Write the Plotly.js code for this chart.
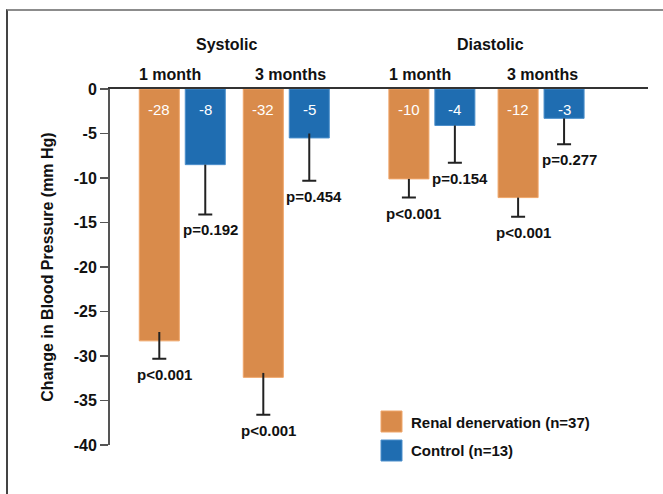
<!DOCTYPE html>
<html>
<head>
<meta charset="utf-8">
<script src="https://cdn.plot.ly/plotly-3.0.1.min.js"></script>
<style>
  html, body { margin: 0; padding: 0; background: #fff; }
  #wrap { position: relative; width: 663px; height: 494px; overflow: hidden; }
  #chart { width: 663px; height: 494px; }
  #frame { position: absolute; left: 6px; top: 9px; width: 657px; height: 485px;
           border-top: 2px solid #8c8c8c; border-left: 2px solid #444;
           box-sizing: border-box; pointer-events: none; }
</style>
</head>
<body>
<div id="wrap">
  <div id="chart"></div>
  <div id="frame"></div>
</div>
<script>
// ---- data ----
var groups = ["Systolic 1 month", "Systolic 3 months", "Diastolic 1 month", "Diastolic 3 months"];
var subLabels = ["1 month", "3 months", "1 month", "3 months"];
var sectionLabels = ["Systolic", "Diastolic"];
var groupPos = [1, 2, 3.4, 4.45];

var renalName = "Renal denervation (n=37)";
var controlName = "Control (n=13)";

var renalValues = [-28.3, -32.4, -10.1, -12.2];
var controlValues = [-8.5, -5.5, -4.1, -3.3];
var renalLabels = ["-28", "-32", "-10", "-12"];
var controlLabels = ["-8", "-5", "-4", "-3"];

var renalErrDown = [2.0, 4.2, 2.1, 2.15];
var controlErrDown = [5.6, 4.8, 4.2, 2.9];
var renalErrUp = [1.0, 0.5, 0, 0];
var controlErrUp = [0, 0.5, 0, 0];

var renalP = ["p<0.001", "p<0.001", "p<0.001", "p<0.001"];
var controlP = ["p=0.192", "p=0.454", "p=0.154", "p=0.277"];

var yTicks = [0, -5, -10, -15, -20, -25, -30, -35, -40];

// ---- styles ----
var ORANGE = "#D98B4B", ORANGE_EDGE = "#EFA66A";
var BLUE = "#1F6DB1", BLUE_EDGE = "#4C8FCB";
var INK = "#222222";
var FONT = "Liberation Sans, Arial, sans-serif";
var barW = 0.385;
var renalOff = -0.4135, controlOff = 0.0285;   // left edge offsets (bar x units)

function centers(off) { return groupPos.map(function (p) { return p + off + barW / 2; }); }
function sub(a, b) { return a.map(function (v, i) { return v - b[i]; }); }
function zeros(n) { var z = []; for (var i = 0; i < n; i++) z.push(0); return z; }

var traces = [
  {
    type: "bar", name: renalName, x: groupPos, y: renalValues,
    width: barW, offset: renalOff,
    marker: { color: ORANGE, line: { color: ORANGE_EDGE, width: 1 } },
    error_y: { type: "data", symmetric: false, array: renalErrUp, arrayminus: renalErrDown,
               width: 0, thickness: 2, color: INK },
    hoverinfo: "skip", showlegend: false
  },
  {
    type: "bar", name: controlName, x: groupPos, y: controlValues,
    width: barW, offset: controlOff,
    marker: { color: BLUE, line: { color: BLUE_EDGE, width: 1 } },
    error_y: { type: "data", symmetric: false, array: controlErrUp, arrayminus: controlErrDown,
               width: 0, thickness: 2, color: INK },
    hoverinfo: "skip", showlegend: false
  },
  // caps of the error bars
  {
    type: "bar", x: groupPos, y: sub(renalValues, renalErrDown),
    width: barW, offset: renalOff,
    marker: { color: "rgba(0,0,0,0)", line: { width: 0 } },
    error_y: { type: "data", symmetric: true, array: zeros(4), width: 7, thickness: 2, color: INK },
    hoverinfo: "skip", showlegend: false
  },
  {
    type: "bar", x: groupPos, y: sub(controlValues, controlErrDown),
    width: barW, offset: controlOff,
    marker: { color: "rgba(0,0,0,0)", line: { width: 0 } },
    error_y: { type: "data", symmetric: true, array: zeros(4), width: 7, thickness: 2, color: INK },
    hoverinfo: "skip", showlegend: false
  }
];

var annotations = [];
var rc = centers(renalOff), cc = centers(controlOff);
// value labels in bars
function addValueLabels(xs, labels) {
  xs.forEach(function (x, i) {
    annotations.push({ x: x, y: 0, xref: "x", yref: "y", text: labels[i], showarrow: false,
      yanchor: "top", yshift: -10, font: { family: FONT, size: 15, color: "#ffffff" } });
  });
}
addValueLabels(rc, renalLabels);
addValueLabels(cc, controlLabels);
// p-value labels under caps
function addP(xs, lows, labels) {
  xs.forEach(function (x, i) {
    annotations.push({ x: x, y: lows[i], xref: "x", yref: "y", text: labels[i], showarrow: false,
      yanchor: "top", yshift: -5, xshift: 5,
      font: { family: FONT, size: 15, color: "#111", weight: "bold" } });
  });
}
addP(rc, sub(renalValues, renalErrDown), renalP);
addP(cc, sub(controlValues, controlErrDown), controlP);
// sub headers
var subShift = [-12, 4, -12, 1];
subLabels.forEach(function (t, i) {
  annotations.push({ x: groupPos[i], y: 1, xref: "x", yref: "paper", text: t, showarrow: false,
    yanchor: "bottom", yshift: 4, xshift: subShift[i],
    font: { family: FONT, size: 16, color: "#111", weight: "bold" } });
});
// section headers
var secPos = [(groupPos[0] + groupPos[1]) / 2, (groupPos[2] + groupPos[3]) / 2];
var secShift = [-8, 4];
sectionLabels.forEach(function (t, i) {
  annotations.push({ x: secPos[i], y: 1, xref: "x", yref: "paper", text: t, showarrow: false,
    yanchor: "bottom", yshift: 34, xshift: secShift[i],
    font: { family: FONT, size: 16, color: "#111", weight: "bold" } });
});

// manual legend (layout geometry, pixel -> paper helpers)
var M = { l: 110, r: 15, t: 89, b: 49 }, W = 663, H = 494;
var PW = W - M.l - M.r, PH = H - M.t - M.b;
function px(x) { return (x - M.l) / PW; }
function py(y) { return (H - M.b - y) / PH; }
var shapes = [
  { type: "rect", xref: "paper", yref: "paper", x0: px(381), x1: px(402), y0: py(432), y1: py(411),
    fillcolor: ORANGE, line: { color: ORANGE_EDGE, width: 1 } },
  { type: "rect", xref: "paper", yref: "paper", x0: px(381), x1: px(402), y0: py(461), y1: py(440),
    fillcolor: BLUE, line: { color: BLUE_EDGE, width: 1 } }
];
annotations.push({ x: px(409), y: py(422.5), xref: "paper", yref: "paper", text: renalName,
  showarrow: false, xanchor: "left", yanchor: "middle",
  font: { family: FONT, size: 15, color: "#111", weight: "bold" } });
annotations.push({ x: px(409), y: py(450.5), xref: "paper", yref: "paper", text: controlName,
  showarrow: false, xanchor: "left", yanchor: "middle",
  font: { family: FONT, size: 15, color: "#111", weight: "bold" } });

var layout = {
  width: W, height: H,
  margin: M,
  paper_bgcolor: "#ffffff", plot_bgcolor: "#ffffff",
  barmode: "overlay",
  showlegend: false,
  font: { family: FONT, color: "#111" },
  xaxis: {
    range: [0.305, 5.478], side: "top", showline: true, linecolor: "#333", linewidth: 2,
    showticklabels: false, ticks: "", showgrid: false, zeroline: false, fixedrange: true
  },
  yaxis: {
    range: [-40, 0], tickvals: yTicks, ticktext: yTicks.map(String),
    showline: true, linecolor: "#555", linewidth: 2, mirror: false,
    ticks: "outside", ticklen: 8, tickwidth: 1.5, tickcolor: "#555",
    showgrid: false, zeroline: false,
    tickfont: { family: FONT, size: 16, color: "#111", weight: "bold" },
    title: { text: "Change in Blood Pressure (mm Hg)", standoff: 16,
             font: { family: FONT, size: 16, color: "#111", weight: "bold" } }
  },
  shapes: shapes,
  annotations: annotations
};

Plotly.newPlot("chart", traces, layout, { displayModeBar: false, staticPlot: true });
</script>
</body>
</html>
